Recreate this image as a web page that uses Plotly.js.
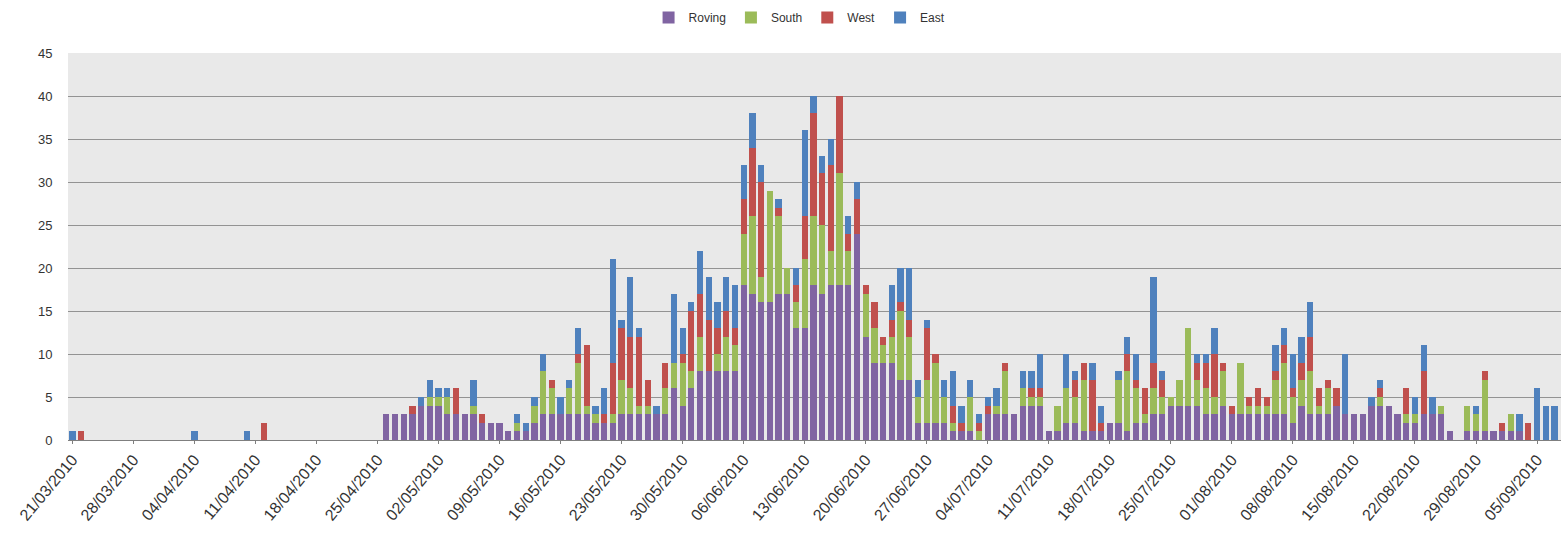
<!DOCTYPE html>
<html>
<head>
<meta charset="utf-8">
<script src="https://cdn.plot.ly/plotly-3.0.1.min.js"></script>
<style>html,body{margin:0;padding:0;background:#fff;}#chart{width:1564px;height:539px;}</style>
</head>
<body>
<div id="chart"></div>
<script>
const dates = [
"2010-03-21","2010-03-22","2010-03-23","2010-03-24","2010-03-25","2010-03-26","2010-03-27","2010-03-28","2010-03-29","2010-03-30","2010-03-31",
"2010-04-01","2010-04-02","2010-04-03","2010-04-04","2010-04-05","2010-04-06","2010-04-07","2010-04-08","2010-04-09","2010-04-10",
"2010-04-11","2010-04-12","2010-04-13","2010-04-14","2010-04-15","2010-04-16","2010-04-17","2010-04-18","2010-04-19","2010-04-20",
"2010-04-21","2010-04-22","2010-04-23","2010-04-24","2010-04-25","2010-04-26","2010-04-27","2010-04-28","2010-04-29","2010-04-30",
"2010-05-01","2010-05-02","2010-05-03","2010-05-04","2010-05-05","2010-05-06","2010-05-07","2010-05-08","2010-05-09","2010-05-10",
"2010-05-11","2010-05-12","2010-05-13","2010-05-14","2010-05-15","2010-05-16","2010-05-17","2010-05-18","2010-05-19","2010-05-20",
"2010-05-21","2010-05-22","2010-05-23","2010-05-24","2010-05-25","2010-05-26","2010-05-27","2010-05-28","2010-05-29","2010-05-30","2010-05-31",
"2010-06-01","2010-06-02","2010-06-03","2010-06-04","2010-06-05","2010-06-06","2010-06-07","2010-06-08","2010-06-09","2010-06-10",
"2010-06-11","2010-06-12","2010-06-13","2010-06-14","2010-06-15","2010-06-16","2010-06-17","2010-06-18","2010-06-19","2010-06-20",
"2010-06-21","2010-06-22","2010-06-23","2010-06-24","2010-06-25","2010-06-26","2010-06-27","2010-06-28","2010-06-29","2010-06-30",
"2010-07-01","2010-07-02","2010-07-03","2010-07-04","2010-07-05","2010-07-06","2010-07-07","2010-07-08","2010-07-09","2010-07-10",
"2010-07-11","2010-07-12","2010-07-13","2010-07-14","2010-07-15","2010-07-16","2010-07-17","2010-07-18","2010-07-19","2010-07-20",
"2010-07-21","2010-07-22","2010-07-23","2010-07-24","2010-07-25","2010-07-26","2010-07-27","2010-07-28","2010-07-29","2010-07-30","2010-07-31",
"2010-08-01","2010-08-02","2010-08-03","2010-08-04","2010-08-05","2010-08-06","2010-08-07","2010-08-08","2010-08-09","2010-08-10",
"2010-08-11","2010-08-12","2010-08-13","2010-08-14","2010-08-15","2010-08-16","2010-08-17","2010-08-18","2010-08-19","2010-08-20",
"2010-08-21","2010-08-22","2010-08-23","2010-08-24","2010-08-25","2010-08-26","2010-08-27","2010-08-28","2010-08-29","2010-08-30","2010-08-31",
"2010-09-01","2010-09-02","2010-09-03","2010-09-04","2010-09-05","2010-09-06","2010-09-07"
];

const roving = [
0,0,0,0,0,0,0,0,0,0, 0,0,0,0,0,0,0,0,0,0, 0,0,0,0,0,0,0,0,0,0,
0,0,0,0,0,0,3,3,3,3, 4,4,4,3,3,3,3,2,2,2, 1,1,1,2,3,3,3,3,3,3,
2,2,2,3,3,3,3,3,3,6, 4,6,8,8,8,8,8,18,17,16, 16,17,17,13,13,18,17,18,18,18,
24,12,9,9,9,7,7,2,2,2, 2,1,1,1,0,3,3,3,3,4, 4,4,1,1,2,2,1,1,1,2,
2,1,2,2,3,3,4,4,4,4, 3,3,4,3,3,3,3,3,3,3, 2,4,3,3,3,4,3,3,3,4,
4,4,3,2,2,3,3,3,1,0, 1,1,1,1,1,1,1,0,0,0,0
];

const south = [
0,0,0,0,0,0,0,0,0,0, 0,0,0,0,0,0,0,0,0,0, 0,0,0,0,0,0,0,0,0,0,
0,0,0,0,0,0,0,0,0,0, 0,1,1,2,0,0,1,0,0,0, 0,1,0,2,5,3,0,3,6,1,
1,0,1,4,3,1,1,0,3,3, 5,2,4,0,2,4,3,6,9,3, 13,9,3,3,8,8,8,4,13,4,
0,5,4,2,3,8,5,3,5,7, 3,1,0,4,1,0,1,5,0,2, 1,1,0,3,4,3,6,0,0,0,
5,7,4,1,3,2,1,3,9,3, 3,2,4,0,6,1,1,1,4,6, 3,3,5,1,3,0,0,0,0,0,
1,0,0,1,1,0,0,1,0,0, 3,2,6,0,0,2,0,0,0,0,0
];

const west = [
0,1,0,0,0,0,0,0,0,0, 0,0,0,0,0,0,0,0,0,0, 0,0,2,0,0,0,0,0,0,0,
0,0,0,0,0,0,0,0,0,1, 0,0,0,0,3,0,0,1,0,0, 0,0,0,0,0,1,0,0,1,7,
0,1,6,6,6,8,3,0,3,0, 1,7,5,6,3,3,2,4,8,11, 0,1,0,2,5,12,6,10,9,2,
4,1,3,1,2,1,2,0,6,1, 0,2,1,0,1,1,0,1,0,0, 1,1,0,0,0,2,2,6,1,0,
0,2,1,3,3,2,0,0,0,2, 3,5,1,1,0,1,2,1,1,2, 1,2,4,2,1,2,0,0,0,0,
1,0,0,3,0,5,0,0,0,0, 0,0,1,0,1,0,0,2,0,0,0
];

const east = [
1,0,0,0,0,0,0,0,0,0, 0,0,0,0,1,0,0,0,0,0, 1,0,0,0,0,0,0,0,0,0,
0,0,0,0,0,0,0,0,0,0, 1,2,1,1,0,0,3,0,0,0, 0,1,1,1,2,0,2,1,3,0,
1,3,12,1,7,1,0,1,0,8, 3,1,5,5,3,4,5,4,4,2, 0,1,0,2,10,2,2,3,0,2,
2,0,0,0,4,4,6,2,1,0, 2,4,2,2,1,1,2,0,0,2, 2,4,0,0,4,1,0,2,2,0,
1,2,3,0,10,1,0,0,0,1, 1,3,0,0,0,0,0,0,3,2, 4,3,4,0,0,0,7,0,0,1,
1,0,0,0,2,3,2,0,0,0, 0,1,0,0,0,0,2,0,6,4,4
];

const tickDates = ["2010-03-21","2010-03-28","2010-04-04","2010-04-11","2010-04-18","2010-04-25","2010-05-02","2010-05-09","2010-05-16","2010-05-23","2010-05-30","2010-06-06","2010-06-13","2010-06-20","2010-06-27","2010-07-04","2010-07-11","2010-07-18","2010-07-25","2010-08-01","2010-08-08","2010-08-15","2010-08-22","2010-08-29","2010-09-05"];
const tickLabels = ["21/03/2010","28/03/2010","04/04/2010","11/04/2010","18/04/2010","25/04/2010","02/05/2010","09/05/2010","16/05/2010","23/05/2010","30/05/2010","06/06/2010","13/06/2010","20/06/2010","27/06/2010","04/07/2010","11/07/2010","18/07/2010","25/07/2010","01/08/2010","08/08/2010","15/08/2010","22/08/2010","29/08/2010","05/09/2010"];

const seriesNames = ["Roving","South","West","East"];
const seriesColors = ["#8064A2","#9BBB59","#C0504D","#4F81BD"];
const seriesData = [roving, south, west, east];

const traces = seriesData.map((vals, i) => ({
  type: 'bar',
  name: seriesNames[i],
  x: dates,
  y: vals,
  marker: {color: seriesColors[i], line: {width: 0}},
  hoverinfo: 'x+y+name'
}));

const layout = {
  width: 1564, height: 539,
  margin: {l: 68, r: 3, t: 50, b: 99},
  barmode: 'stack',
  bargap: 0.28,
  paper_bgcolor: '#ffffff',
  plot_bgcolor: '#E9E9E9',
  font: {family: 'Liberation Sans, Arial, sans-serif', size: 12, color: '#333333'},
  showlegend: true,
  legend: {orientation: 'h', x: 0.49, xanchor: 'center', y: 1.092, yanchor: 'middle',
           font: {size: 12, color: '#333333'}, traceorder: 'normal', itemwidth: 30, bgcolor: 'rgba(0,0,0,0)'},
  xaxis: {
    type: 'date',
    range: ['2010-03-20 12:00', '2010-09-07 18:00'],
    tickmode: 'array', tickvals: tickDates, ticktext: tickLabels,
    tickangle: -50, tickfont: {size: 16, color: '#333333'},
    showgrid: false, showline: true, linecolor: '#7F7F7F', linewidth: 1,
    ticks: 'outside', ticklen: 3, tickcolor: '#7F7F7F', zeroline: false
  },
  yaxis: {
    range: [0, 45], dtick: 5, tick0: 0,
    showgrid: true, gridcolor: '#939393', gridwidth: 1,
    ticks: 'outside', ticklen: 12, tickcolor: 'rgba(0,0,0,0)',
    tickfont: {size: 13, color: '#333333'},
    showline: false, zeroline: false
  }
};

Plotly.newPlot('chart', traces, layout, {displayModeBar: false, staticPlot: true});
</script>
</body>
</html>
